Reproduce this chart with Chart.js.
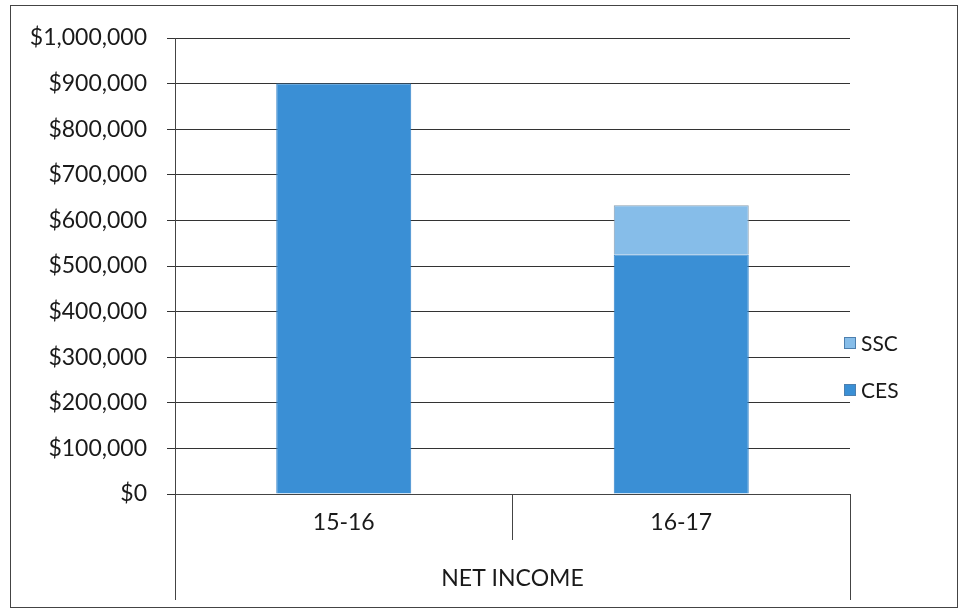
<!DOCTYPE html>
<html>
<head>
<meta charset="utf-8">
<script src="https://cdn.jsdelivr.net/npm/chart.js@4.4.1/dist/chart.umd.min.js"></script>
<style>
  html, body { margin: 0; padding: 0; background: #fff; }
  #wrap { position: relative; width: 963px; height: 611px; }
  #legend { position: absolute; left: 844px; top: 319px; font-family: Lato, "Open Sans", sans-serif; font-size: 21px; color: #1a1a1a; }
  .item { display: flex; align-items: center; height: 47px; }
  .box { width: 12px; height: 12px; margin-right: 5px; border: 1px solid #4d7fae; box-sizing: border-box; }
</style>
</head>
<body>
<div id="wrap">
  <canvas id="myChart" width="963" height="611"></canvas>
  <div id="legend"></div>
</div>
<script>
// data
const categories = ['15-16', '16-17'];
const cesValues = [900000, 525000];
const sscValues = [0, 108000];
const axisTitle = 'NET INCOME';
const cesColor = '#3a8fd5';
const sscColor = '#86bde9';

// frame + outer category dividers
const framePlugin = {
  id: 'frame',
  beforeDraw(chart) {
    const c = chart.ctx;
    c.save();
    c.strokeStyle = '#444';
    c.lineWidth = 1;
    c.strokeRect(10.5, 5.5, 947, 602);
    c.restore();
  },
  afterDraw(chart) {
    const c = chart.ctx;
    const a = chart.chartArea;
    c.save();
    c.strokeStyle = '#444';
    c.lineWidth = 1;
    [a.left, a.right].forEach(x => {
      c.beginPath();
      c.moveTo(Math.round(x) + 0.5, a.bottom);
      c.lineTo(Math.round(x) + 0.5, 600);
      c.stroke();
    });
    c.restore();
  }
};

const txtFont = { family: 'Lato', size: 23 };

const myChart = new Chart(document.getElementById('myChart').getContext('2d'), {
  type: 'bar',
  data: {
    labels: categories,
    datasets: [
      {
        label: 'CES',
        data: cesValues,
        backgroundColor: cesColor,
        borderColor: '#3583c8',
        borderWidth: 1,
        categoryPercentage: 1,
        barPercentage: 0.4
      },
      {
        label: 'SSC',
        data: sscValues,
        backgroundColor: sscColor,
        borderColor: '#8a9fb0',
        borderWidth: 1,
        categoryPercentage: 1,
        barPercentage: 0.4
      }
    ]
  },
  options: {
    responsive: false,
    animation: false,
    layout: { padding: { top: 38, right: 113, left: 0, bottom: 0 } },
    plugins: {
      legend: { display: false },
      tooltip: { enabled: false }
    },
    scales: {
      x: {
        stacked: true,
        border: { color: '#444', width: 1 },
        grid: {
          offset: true,
          drawOnChartArea: false,
          tickLength: 46,
          color: '#444'
        },
        ticks: {
          padding: -31,
          color: '#1a1a1a',
          font: txtFont
        },
        title: {
          display: true,
          text: axisTitle,
          color: '#1a1a1a',
          font: txtFont,
          padding: { top: 0, bottom: 19 }
        },
        afterFit(scale) { scale.height = 117; }
      },
      y: {
        stacked: true,
        min: 0,
        max: 1000000,
        border: { color: '#444', width: 1 },
        grid: { color: '#333', tickLength: 8 },
        ticks: {
          stepSize: 100000,
          padding: 20,
          color: '#1a1a1a',
          font: txtFont,
          callback: v => '$' + v.toLocaleString('en-US')
        },
        afterFit(scale) { scale.width = 175; }
      }
    }
  },
  plugins: [framePlugin]
});

// legend, reversed like the original
const legend = document.getElementById('legend');
myChart.data.datasets.slice().reverse().forEach(ds => {
  const row = document.createElement('div');
  row.className = 'item';
  const box = document.createElement('span');
  box.className = 'box';
  box.style.background = ds.backgroundColor;
  const txt = document.createElement('span');
  txt.textContent = ds.label;
  row.appendChild(box);
  row.appendChild(txt);
  legend.appendChild(row);
});
</script>
</body>
</html>
